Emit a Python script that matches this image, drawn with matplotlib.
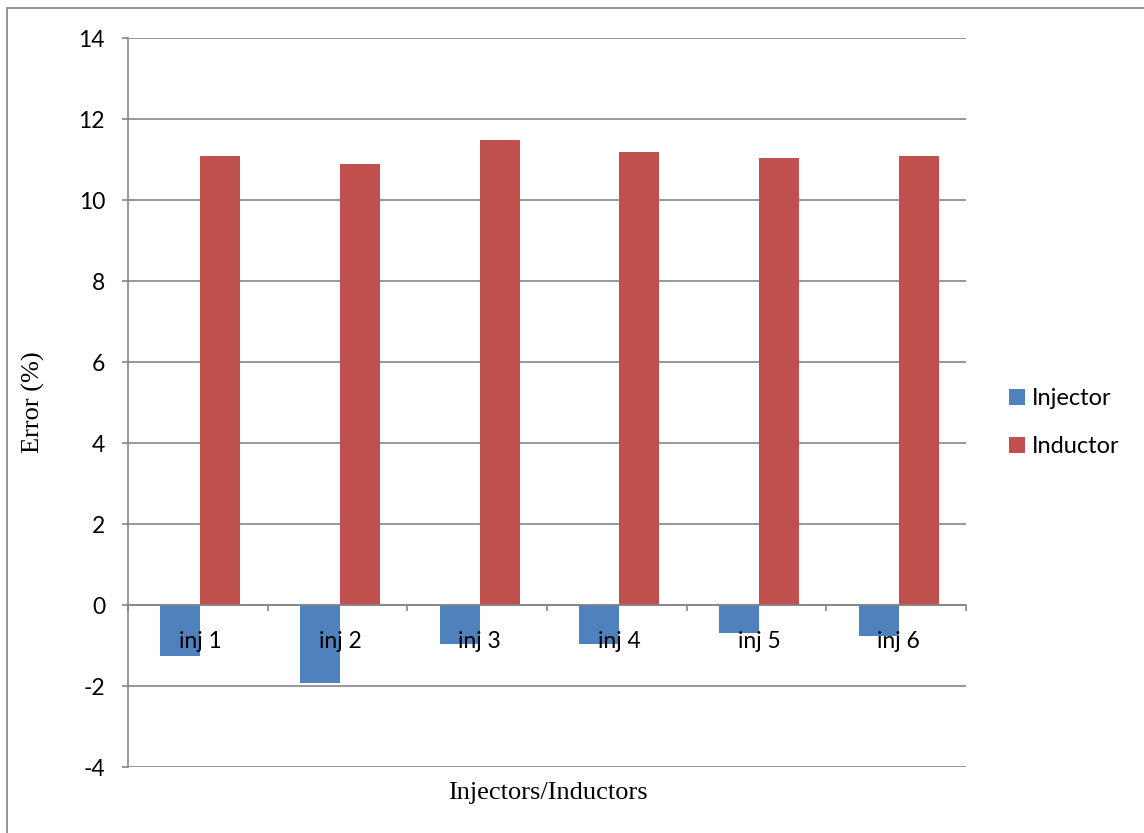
import numpy as np
import matplotlib
matplotlib.use("Agg")
import matplotlib.pyplot as plt
from matplotlib.patches import Rectangle

plt.rcParams["axes.unicode_minus"] = False

# error of each injector / inductor pair, in percent
categories = ["inj 1", "inj 2", "inj 3", "inj 4", "inj 5", "inj 6"]
injector = [-1.26, -1.92, -0.97, -0.97, -0.70, -0.76]
inductor = [11.10, 10.90, 11.48, 11.20, 11.05, 11.10]
y_ticks = [-4, -2, 0, 2, 4, 6, 8, 10, 12, 14]

tick_font = "Lato"
label_font = "Liberation Serif"
grid_col = "#868686"
fs = 16.5

fig = plt.figure(figsize=(11.44, 8.33), dpi=100)
ax = fig.add_axes([128 / 1144, 1 - 767 / 833, (966 - 128) / 1144, (767 - 38.3) / 833])

# outer chart border (only the left and top edges show)
fig.patches.append(Rectangle((7 / 1144, -0.1), 1.2, 1 - 8 / 833 + 0.1,
                             transform=fig.transFigure, fill=False,
                             edgecolor="#8a8a8a", linewidth=1.3))

x = np.arange(len(categories))
w = 1 / 3.5
shift = 0.018
ax.bar(x - w / 2 + shift, injector, w, color="#4F81BD", label="Injector", zorder=3)
ax.bar(x + w / 2 + shift, inductor, w, color="#C0504D", label="Inductor", zorder=3)

ax.set_xlim(-0.5, len(categories) - 0.5)
ax.set_ylim(-4, 14)
ax.set_yticks(y_ticks)
ax.yaxis.grid(True, color=grid_col, linewidth=1.2)
ax.set_axisbelow(True)
# category labels sit on top of the negative bars
ax.xaxis.set_zorder(5)

for s in ["top", "right"]:
    ax.spines[s].set_visible(False)
ax.spines["left"].set_color(grid_col)
ax.spines["left"].set_linewidth(1.2)
ax.spines["bottom"].set_position(("data", 0))
ax.spines["bottom"].set_color(grid_col)
ax.spines["bottom"].set_linewidth(1.2)
ax.spines["bottom"].set_zorder(4)

ax.set_xticks(x + shift)
ax.set_xticklabels(categories, fontfamily=tick_font, fontsize=fs)
ax.set_xticks(np.arange(len(categories) + 1) - 0.5, minor=True)
ax.tick_params(axis="x", which="major", length=0, pad=19)
ax.tick_params(axis="x", which="minor", length=4.5, color=grid_col, width=1.2, direction="out")
ax.tick_params(axis="y", length=4.5, color=grid_col, width=1.2, pad=12)
for t in ax.get_yticklabels():
    t.set_fontfamily(tick_font)
    t.set_fontsize(fs)

ax.set_ylabel("Error (%)", fontfamily=label_font, fontsize=19)
ax.yaxis.set_label_coords(-0.099, 0.5)
ax.text(0.501, -0.021, "Injectors/Inductors", transform=ax.transAxes,
        ha="center", va="top", fontfamily=label_font, fontsize=19)

ax.legend(loc="center left", bbox_to_anchor=((1009 - 128) / 838, (767 - 422.5) / 729),
          frameon=False, borderpad=0, borderaxespad=0,
          prop={"family": tick_font, "size": 17}, handlelength=0.68,
          handleheight=0.68, handletextpad=0.3, labelspacing=1.14)

fig.savefig("out.png", dpi=100)
